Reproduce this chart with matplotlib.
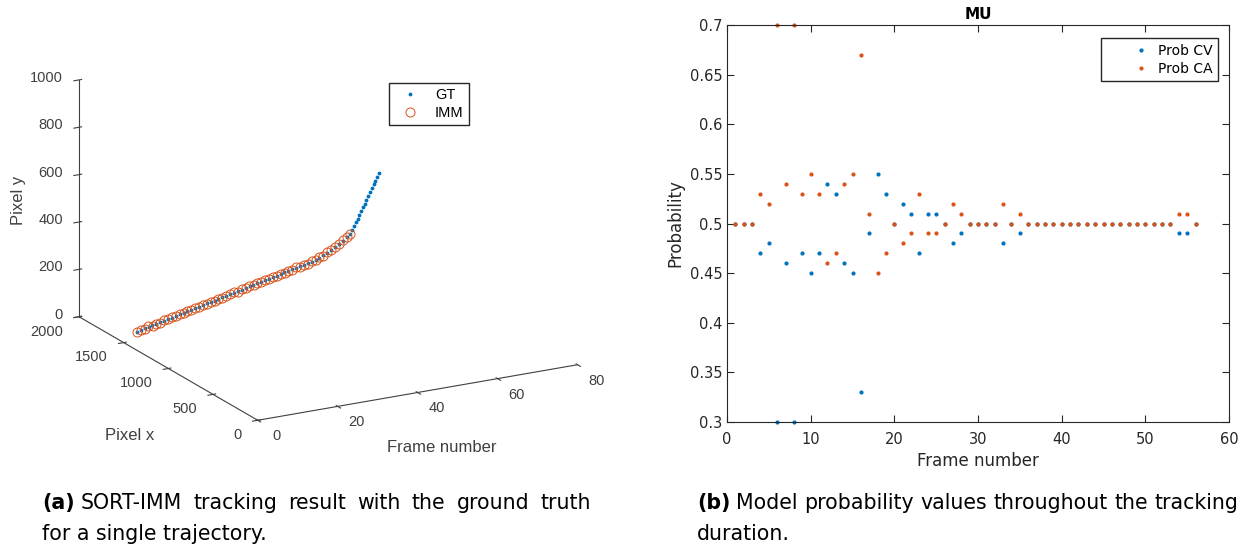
import numpy as np
import matplotlib
matplotlib.use("Agg")
import matplotlib.pyplot as plt
from matplotlib.ticker import FuncFormatter
from mpl_toolkits.mplot3d import proj3d

# === Data: ground truth trajectory (frame, pixel x, pixel y) ===
gt_frame = np.arange(1, 73)
gt_px = [1397, 1398, 1399, 1401, 1402, 1403, 1405, 1406, 1407, 1408,
         1410, 1411, 1412, 1414, 1415, 1416, 1417, 1419, 1420, 1421,
         1423, 1424, 1425, 1426, 1428, 1429, 1430, 1432, 1433, 1434,
         1435, 1437, 1438, 1439, 1441, 1442, 1443, 1444, 1446, 1447,
         1448, 1450, 1451, 1452, 1453, 1455, 1456, 1457, 1459, 1460,
         1461, 1462, 1464, 1465, 1466, 1468,
         1493, 1518, 1542, 1567, 1592, 1617, 1641, 1666, 1691, 1716,
         1740, 1765, 1790, 1815, 1839, 1864]
gt_py = [66, 69, 73, 76, 80, 83, 86, 90, 93, 96,
         100, 103, 106, 110, 113, 116, 120, 123, 127, 130,
         133, 137, 140, 143, 147, 150, 153, 157, 160, 164,
         167, 170, 174, 177, 180, 184, 187, 190, 194, 197,
         200, 204, 207, 210, 213, 216, 222, 228, 234, 241,
         250, 259, 269, 280, 291, 302,
         310, 318, 325, 333, 341, 348, 356, 363, 371, 379,
         386, 394, 402, 409, 417, 425]

# === Data: IMM estimates ===
imm_frame = np.arange(1, 57)
imm_px = [1396, 1399, 1398, 1402, 1401, 1404, 1404, 1407, 1406, 1409,
          1409, 1412, 1411, 1415, 1414, 1417, 1416, 1420, 1419, 1422,
          1422, 1425, 1424, 1427, 1427, 1430, 1429, 1433, 1432, 1435,
          1434, 1438, 1437, 1440, 1440, 1443, 1442, 1445, 1445, 1448,
          1447, 1451, 1450, 1453, 1452, 1456, 1455, 1458, 1458, 1461,
          1460, 1463, 1463, 1466, 1467, 1470]
imm_py = [64, 70, 72, 78, 79, 84, 85, 91, 92, 97,
          99, 104, 105, 111, 112, 117, 119, 124, 126, 131,
          132, 138, 139, 144, 146, 151, 152, 158, 159, 165,
          166, 171, 173, 178, 179, 185, 186, 191, 193, 198,
          199, 205, 206, 211, 212, 218, 221, 229, 233, 243,
          249, 261, 268, 282, 290, 300]

# === Data: model probabilities ===
frames = np.arange(1, 57)
prob_cv = [0.5, 0.5, 0.5, 0.47, 0.48, 0.3, 0.46, 0.3, 0.47, 0.45,
           0.47, 0.54, 0.53, 0.46, 0.45, 0.33, 0.49, 0.55, 0.53, 0.5,
           0.52, 0.51, 0.47, 0.51, 0.51, 0.5, 0.48, 0.49, 0.5, 0.5,
           0.5, 0.5, 0.48, 0.5, 0.49, 0.5, 0.5, 0.5, 0.5, 0.5,
           0.5, 0.5, 0.5, 0.5, 0.5, 0.5, 0.5, 0.5, 0.5, 0.5,
           0.5, 0.5, 0.5, 0.49, 0.49, 0.5]
prob_ca = [0.5, 0.5, 0.5, 0.53, 0.52, 0.7, 0.54, 0.7, 0.53, 0.55,
           0.53, 0.46, 0.47, 0.54, 0.55, 0.67, 0.51, 0.45, 0.47, 0.5,
           0.48, 0.49, 0.53, 0.49, 0.49, 0.5, 0.52, 0.51, 0.5, 0.5,
           0.5, 0.5, 0.52, 0.5, 0.51, 0.5, 0.5, 0.5, 0.5, 0.5,
           0.5, 0.5, 0.5, 0.5, 0.5, 0.5, 0.5, 0.5, 0.5, 0.5,
           0.5, 0.5, 0.5, 0.51, 0.51, 0.5]

frame_ticks = [0, 20, 40, 60, 80]
px_ticks = [0, 500, 1000, 1500, 2000]
py_ticks = [0, 200, 400, 600, 800, 1000]

blue = '#0072BD'
orange = '#D95319'
dark = '#262626'
grey = '#404040'

plt.rcParams['font.family'] = 'DejaVu Sans'
fig = plt.figure(figsize=(12.55, 5.48), dpi=100)
W, H = 1255.0, 548.0

# === (a) 3D trajectory ===
ax1 = fig.add_axes([0.0115, 0.1527, 0.49, 0.86], projection='3d', proj_type='ortho')
ax1.plot(gt_frame, gt_px, gt_py, '.', color=blue, markersize=3.5, label='GT')
ax1.plot(imm_frame, imm_px, imm_py, 'o', mfc='none', mec=orange, mew=0.7,
         markersize=6.5, label='IMM')
ax1.set_xlim(0, 80)
ax1.set_ylim(0, 2000)
ax1.set_zlim(0, 1000)
ax1.set_xticks(frame_ticks)
ax1.set_yticks(px_ticks)
ax1.set_zticks(py_ticks)
ax1.view_init(elev=18.5, azim=-118.7)
ax1.set_box_aspect((1.46, 1.49, 1.0), zoom=1.19)
ax1.grid(False)
for axis in (ax1.xaxis, ax1.yaxis, ax1.zaxis):
    axis.set_pane_color((1, 1, 1, 0))
    axis.pane.set_edgecolor((1, 1, 1, 0))
    axis.line.set_color(grey)
    axis.line.set_linewidth(0.8)
ax1.tick_params(colors=grey)
ax1.tick_params(axis='x', labelbottom=False)
ax1.tick_params(axis='y', labelleft=False)
ax1.tick_params(axis='z', labelleft=False)

fig.legend(*ax1.get_legend_handles_labels(), loc='upper left',
           bbox_to_anchor=(389 / W, 1 - 83 / H), borderaxespad=0, fancybox=False,
           edgecolor=dark, framealpha=1, labelspacing=0.25, borderpad=0.35,
           handlelength=2.2, handletextpad=0.6,
           prop={'family': 'Liberation Sans', 'size': 10.5})

# axis titles placed where MATLAB put them
lab = dict(fontsize=12, color=grey, family='Liberation Sans', ha='center', va='center')
fig.text(442 / W, 1 - 448 / H, 'Frame number', **lab)
fig.text(130 / W, 1 - 436 / H, 'Pixel x', **lab)
fig.text(18 / W, 1 - 200 / H, 'Pixel y', rotation=90, **lab)

# === (b) model probabilities ===
ax2 = fig.add_axes([0.5793, 0.2299, 0.4000, 0.7245])
ax2.plot(frames, prob_cv, '.', color=blue, markersize=4, label='Prob CV', clip_on=False)
ax2.plot(frames, prob_ca, '.', color=orange, markersize=4, label='Prob CA', clip_on=False)
ax2.set_xlim(0, 60)
ax2.set_ylim(0.3, 0.7)
ax2.set_xticks([0, 10, 20, 30, 40, 50, 60])
ax2.set_yticks(np.arange(0.3, 0.71, 0.05))
ax2.yaxis.set_major_formatter(FuncFormatter(lambda v, p: '%g' % round(v, 2)))
ax2.tick_params(direction='in', top=True, right=True, labelsize=10.5,
                colors=dark, length=5)
ax2.tick_params(axis='x', pad=7.5)
for s in ax2.spines.values():
    s.set_color(dark)
    s.set_linewidth(0.8)
ax2.set_title('MU', fontsize=11, fontweight='bold', color='black', pad=4)
ax2.set_xlabel('Frame number', fontsize=12, color=dark, labelpad=3)
ax2.set_ylabel('Probability', fontsize=12, color=dark, labelpad=4)
fig.legend(*ax2.get_legend_handles_labels(), loc='upper right',
           bbox_to_anchor=(1218 / W, 1 - 38 / H), borderaxespad=0, fancybox=False,
           edgecolor=dark, framealpha=1, fontsize=10, labelspacing=0.3,
           borderpad=0.4, handlelength=5.0, handletextpad=-1.28)

# === 3D tick labels, offset the way MATLAB draws them ===
fig.canvas.draw()
renderer = fig.canvas.get_renderer()
tl = dict(fontsize=10.5, color=grey, family='Liberation Sans', va='center')


def label3d(x, y, z, s, ha):
    x2, y2, _ = proj3d.proj_transform(x, y, z, ax1.M)
    ax1.text2D(x2, y2, s, transform=ax1.transData, ha=ha, **tl)


for v in frame_ticks:
    label3d(v, -212, -21, str(v), 'center')
for v in px_ticks:
    label3d(-4, v, -51, str(v), 'right')
for v in py_ticks:
    label3d(-4, 2000, v + 20, str(v), 'right')

# === Captions (first line justified like the LaTeX caption) ===
cap = dict(fontsize=14.8, color='black', va='baseline')


def justified(tag, text, x0, x1, y):
    t = fig.text(x0 / W, 1 - y / H, tag, fontweight='bold', **cap)
    x = x0 + t.get_window_extent(renderer).width + 6
    words = text.split()
    objs, widths = [], []
    for w in words:
        o = fig.text(0, 1 - y / H, w, **cap)
        objs.append(o)
        widths.append(o.get_window_extent(renderer).width)
    gap = (x1 - x - sum(widths)) / (len(words) - 1)
    for o, wd in zip(objs, widths):
        o.set_x(x / W)
        x += wd + gap


justified('(a)', 'SORT-IMM tracking result with the ground truth', 42, 591, 509)
fig.text(42 / W, 1 - 540 / H, 'for a single trajectory.', **cap)
justified('(b)', 'Model probability values throughout the tracking', 697, 1238, 509)
fig.text(697 / W, 1 - 540 / H, 'duration.', **cap)

fig.savefig('out.png', dpi=100)
